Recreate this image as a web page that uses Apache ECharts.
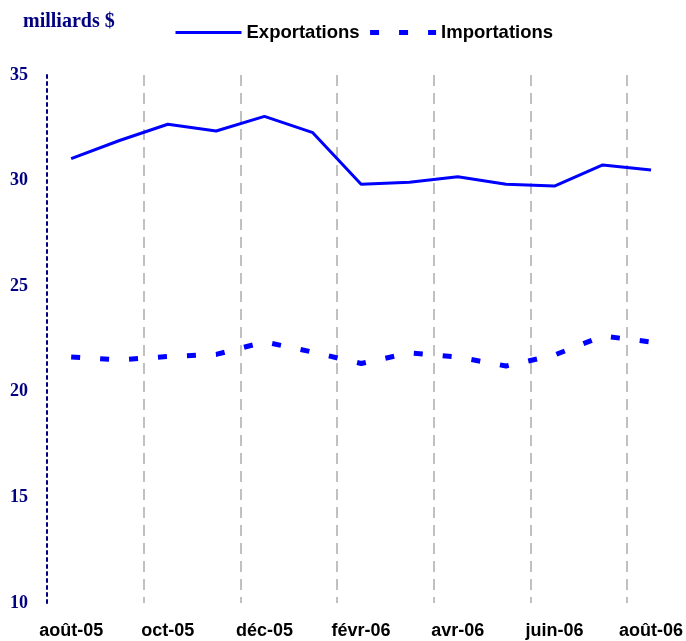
<!DOCTYPE html>
<html>
<head>
<meta charset="utf-8">
<script src="https://cdn.jsdelivr.net/npm/echarts@6/dist/echarts.min.js"></script>
<style>html,body{margin:0;padding:0;background:#fff}#c{width:686px;height:641px}</style>
</head>
<body>
<div id="c"></div>
<script>
var categories = ['août-05','sept-05','oct-05','nov-05','déc-05','janv-06','févr-06','mars-06','avr-06','mai-06','juin-06','juil-06','août-06'];
var exportations = [31.04, 31.9, 32.67, 32.35, 33.04, 32.27, 29.83, 29.92, 30.18, 29.83, 29.74, 30.74, 30.5];
var importations = [21.65, 21.51, 21.67, 21.77, 22.36, 21.88, 21.34, 21.84, 21.65, 21.22, 21.74, 22.64, 22.36];
var yTicks = { min: 10, max: 35, interval: 5 };
var unitLabel = 'milliards $';

var importDash = [9, 20];

var chart = echarts.init(document.getElementById('c'));
chart.setOption({
  animation: false,
  backgroundColor: '#ffffff',
  title: {
    text: unitLabel, left: 18, top: 7,
    textStyle: { fontFamily: 'Liberation Serif', fontWeight: 'bold', fontSize: 20, color: '#000080' }
  },
  legend: {
    left: 169, top: 18, itemWidth: 66, itemHeight: 14, itemGap: 8,
    itemStyle: { opacity: 0 },
    textStyle: { fontFamily: 'Liberation Sans', fontWeight: 'bold', fontSize: 18.5, color: '#000000' },
    data: [
      { name: 'Exportations', lineStyle: { width: 3 } },
      { name: 'Importations', lineStyle: { width: 5, type: importDash } }
    ]
  },
  grid: { left: 47, right: 9, top: 75, bottom: 38, containLabel: false },
  xAxis: {
    type: 'category', data: categories, boundaryGap: true,
    axisLine: { show: false }, axisTick: { show: false, interval: 1 },
    axisLabel: { interval: 1, margin: 19, fontFamily: 'Liberation Sans', fontWeight: 'bold', fontSize: 18, color: '#000000' },
    splitLine: { show: true, interval: 1, showMinLine: false, showMaxLine: false,
      lineStyle: { color: '#c0c0c0', width: 2, type: [11, 7] } }
  },
  yAxis: {
    type: 'value', min: yTicks.min, max: yTicks.max, interval: yTicks.interval,
    axisLine: { show: true, lineStyle: { color: '#000080', width: 2, type: [3, 4] } },
    axisTick: { show: false },
    splitLine: { show: false },
    axisLabel: { margin: 19, fontFamily: 'Liberation Serif', fontWeight: 'bold', fontSize: 18, color: '#000080' }
  },
  series: [
    { name: 'Exportations', type: 'line', data: exportations, symbol: 'none',
      color: '#0000ff', lineStyle: { color: '#0000ff', width: 3 } },
    { name: 'Importations', type: 'line', data: importations, symbol: 'none',
      color: '#0000ff', lineStyle: { color: '#0000ff', width: 5, type: importDash } }
  ]
});
</script>
</body>
</html>
